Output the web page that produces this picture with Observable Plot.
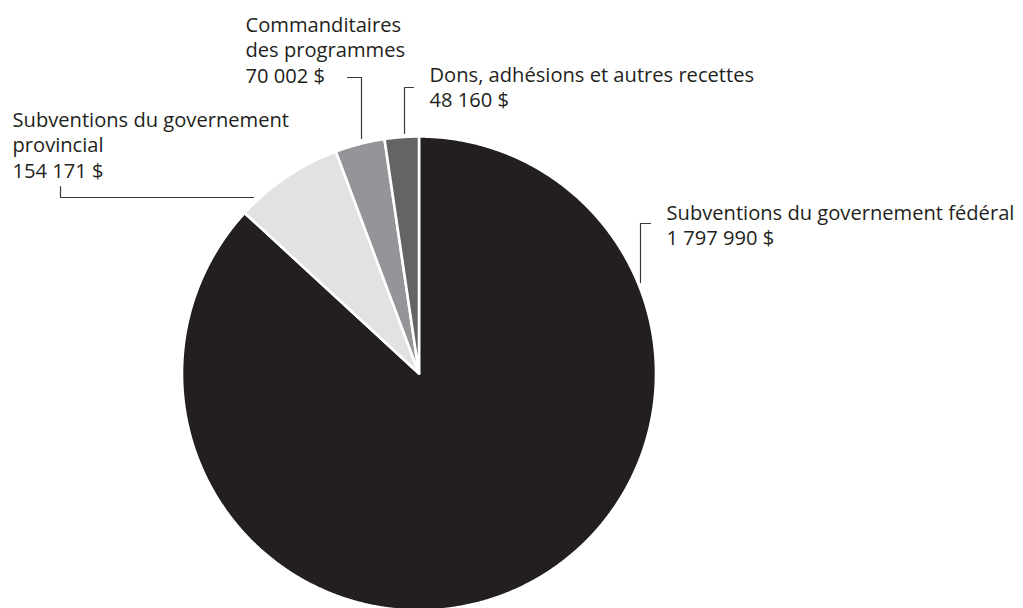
<!DOCTYPE html>
<html>
<head>
<meta charset="utf-8">
<script src="https://cdn.jsdelivr.net/npm/d3@7"></script>
<script src="https://cdn.jsdelivr.net/npm/@observablehq/plot@0.6"></script>
<style>
  html, body { margin: 0; padding: 0; background: #fff; }
  #chart svg { display: block; }
</style>
</head>
<body>
<div id="chart"></div>
<script>
// ---- data ----
const categories = [
  "Subventions du governement fédéral",
  "Subventions du governement provincial",
  "Commanditaires des programmes",
  "Dons, adhésions et autres recettes"
];
const values = [1797990, 154171, 70002, 48160];
// label text as printed (line breaks as in the reference)
const labelNames = [
  "Subventions du governement fédéral",
  "Subventions du governement\nprovincial",
  "Commanditaires\ndes programmes",
  "Dons, adhésions et autres recettes"
];
const colors = ["#231f20", "#e1e2e3", "#939598", "#636466"];

// ---- layout (pixels) ----
const W = 1023, H = 608;
const CX = 418.5, CY = 373, R = 237;
const FONT = "Open Sans";
const LH = 25.5;
const labelPos = [ // baseline of first line
  {x: 666, y: 219},
  {x: 12, y: 126},
  {x: 245, y: 31},
  {x: 429, y: 81}
];
const leaders = [
  [[650, 223], [640, 223], [640, 282]],
  [[60, 186], [60, 197], [253, 197]],
  [[347, 77], [361, 77], [361, 138]],
  [[413, 87], [404, 87], [404, 133]]
];

const fr = d3.formatLocale({decimal: ",", thousands: "\u00a0", grouping: [3], currency: ["", " $"]});
const fmt = v => fr.format(",d")(v).replace(/\u00a0/g, " ") + " $";

const ctx = document.createElement("canvas").getContext("2d");
ctx.font = `100px "${FONT}"`;
const w100 = ctx.measureText(labelNames[0]).width;
const FS = Math.max(15, Math.min(21, 348 / w100 * 100));

// ---- pie geometry via d3.pie ----
const arcs = d3.pie().sort(null).value(d => d)(values);
const slicePts = [];
arcs.forEach((a, i) => {
  const cat = categories[i];
  slicePts.push({cat, x: CX, y: CY});
  const n = Math.max(8, Math.ceil((a.endAngle - a.startAngle) / 0.005));
  for (let k = 0; k <= n; k++) {
    const t = a.startAngle + (a.endAngle - a.startAngle) * k / n;
    slicePts.push({cat, x: CX + R * Math.sin(t), y: CY - R * Math.cos(t)});
  }
});

const leaderPts = leaders.flatMap((pts, i) => pts.map(([x, y]) => ({cat: categories[i], x, y})));

// one multi-line text per label; y = baseline of last line (lineAnchor bottom)
const labelRows = labelNames.map((name, i) => {
  const lines = name.split("\n").concat([fmt(values[i])]);
  return {x: labelPos[i].x, y: labelPos[i].y + (lines.length - 1) * LH, t: lines.join("\n")};
});

const chart = Plot.plot({
  width: W,
  height: H,
  margin: 0,
  x: {domain: [0, W], range: [0, W], axis: null},
  y: {domain: [0, H], range: [0, H], axis: null},
  color: {domain: categories, range: colors},
  style: {fontFamily: `"${FONT}", sans-serif`, background: "#fff", overflow: "visible"},
  marks: [
    Plot.line(slicePts, {x: "x", y: "y", z: "cat", fill: "cat", stroke: "#fff", strokeWidth: 2.6,
      strokeLinejoin: "round", curve: "linear-closed"}),
    Plot.line(leaderPts, {x: "x", y: "y", z: "cat", stroke: "#3a3a3a", strokeWidth: 1.2}),
    Plot.text(labelRows, {x: "x", y: "y", text: "t", textAnchor: "start", lineAnchor: "bottom",
      lineHeight: LH / FS, fontSize: FS, fill: "#231f20"})
  ]
});
document.getElementById("chart").appendChild(chart);
</script>
</body>
</html>
